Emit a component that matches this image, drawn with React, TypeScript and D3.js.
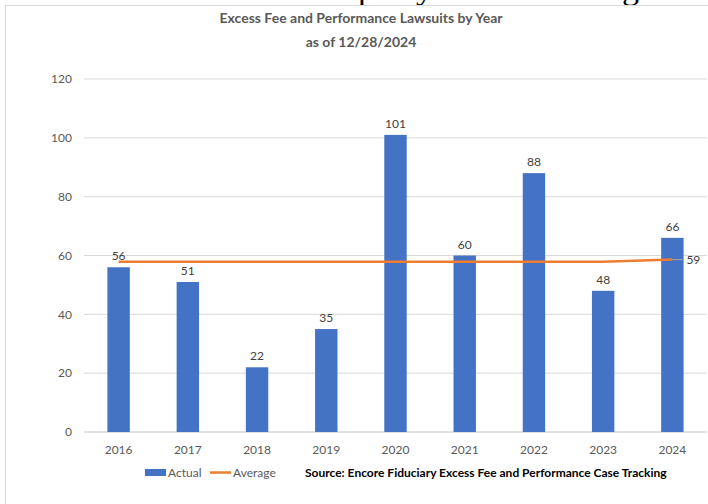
import * as d3 from 'd3';

const years = ['2016', '2017', '2018', '2019', '2020', '2021', '2022', '2023', '2024'];
const actual = [56, 51, 22, 35, 101, 60, 88, 48, 66];
const average = [57.9, 57.9, 57.9, 57.9, 57.9, 57.9, 57.9, 57.9, 58.6];
const yTicks = [0, 20, 40, 60, 80, 100, 120];
const avgLabel = '59';

const W = 708,
	H = 504;
const plot = { left: 84, right: 707, top: 79, bottom: 432 };
const font = 'Lato, "Noto Sans", sans-serif';
const gray = '#595959';

export default function App() {
	const x = d3
		.scaleBand<string>()
		.domain(years)
		.range([plot.left, plot.right])
		.paddingInner(0.676)
		.paddingOuter(0.338);
	const xc = (d: string) => x(d)! + x.bandwidth() / 2;
	const y = d3.scaleLinear().domain([0, 120]).range([plot.bottom, plot.top]);

	const line = d3
		.line<number>()
		.x((_, i) => xc(years[i]))
		.y((d) => y(d));

	const lastX = xc(years[years.length - 1]);
	const lastY = y(average[average.length - 1]);

	return (
		<svg
			width={W}
			height={H}
			viewBox={`0 0 ${W} ${H}`}
			style={{ position: 'absolute', left: 0, top: 0, background: 'white' }}
			fontFamily={font}
		>
			{/* descenders of the slide heading, cut off above the chart */}
			<g fontFamily='"Liberation Serif", "DejaVu Serif", serif' fontSize={34} fill="#000">
				<text x={358} y={-1}>p</text>
				<text x={416} y={-1}>y</text>
				<text x={622} y={-1}>g</text>
			</g>
			{/* chart frame */}
			<rect x={5.5} y={5.5} width={W} height={H} fill="white" stroke="#d9d9d9" />

			<text x={361} y={23} textAnchor="middle" fontSize={14} fontWeight="bold" fill={gray}>
				Excess Fee and Performance Lawsuits by Year
			</text>
			<text x={361} y={47} textAnchor="middle" fontSize={14} fontWeight="bold" fill={gray}>
				as of 12/28/2024
			</text>

			{/* gridlines + y axis */}
			{yTicks.map((t) => (
				<g key={t}>
					<line
						x1={plot.left}
						x2={plot.right}
						y1={y(t)}
						y2={y(t)}
						stroke="#d9d9d9"
						strokeWidth={t === 0 ? 1.5 : 1}
					/>
					<text x={72} y={y(t)} dy="0.35em" textAnchor="end" fontSize={12} fill={gray}>
						{t}
					</text>
				</g>
			))}

			{/* bars */}
			{years.map((yr, i) => (
				<g key={yr}>
					<rect
						x={x(yr)}
						y={y(actual[i])}
						width={x.bandwidth()}
						height={y(0) - y(actual[i])}
						fill="#4472C4"
					/>
					<text x={xc(yr)} y={y(actual[i]) - 7} textAnchor="middle" fontSize={12} fill="#404040">
						{actual[i]}
					</text>
					<text x={xc(yr)} y={454} textAnchor="middle" fontSize={12} fill={gray}>
						{yr}
					</text>
				</g>
			))}

			{/* average line */}
			<path d={line(average)!} fill="none" stroke="#ED7D31" strokeWidth={2.5} />
			<line x1={lastX} x2={lastX + 12} y1={lastY} y2={lastY} stroke="#a6a6a6" strokeWidth={1} />
			<text x={lastX + 14} y={lastY} dy="0.35em" fontSize={12} fill="#404040">
				{avgLabel}
			</text>

			{/* legend */}
			<rect x={145} y={469} width={21} height={7} fill="#4472C4" />
			<text x={168} y={476.5} fontSize={12} fill={gray}>
				Actual
			</text>
			<line x1={210} x2={231} y1={472.5} y2={472.5} stroke="#ED7D31" strokeWidth={2.5} />
			<text x={233} y={476.5} fontSize={12} fill={gray}>
				Average
			</text>
			<text x={305} y={476.5} fontSize={12} fontWeight="bold" fill="#000">
				Source: Encore Fiduciary Excess Fee and Performance Case Tracking
			</text>
		</svg>
	);
}
